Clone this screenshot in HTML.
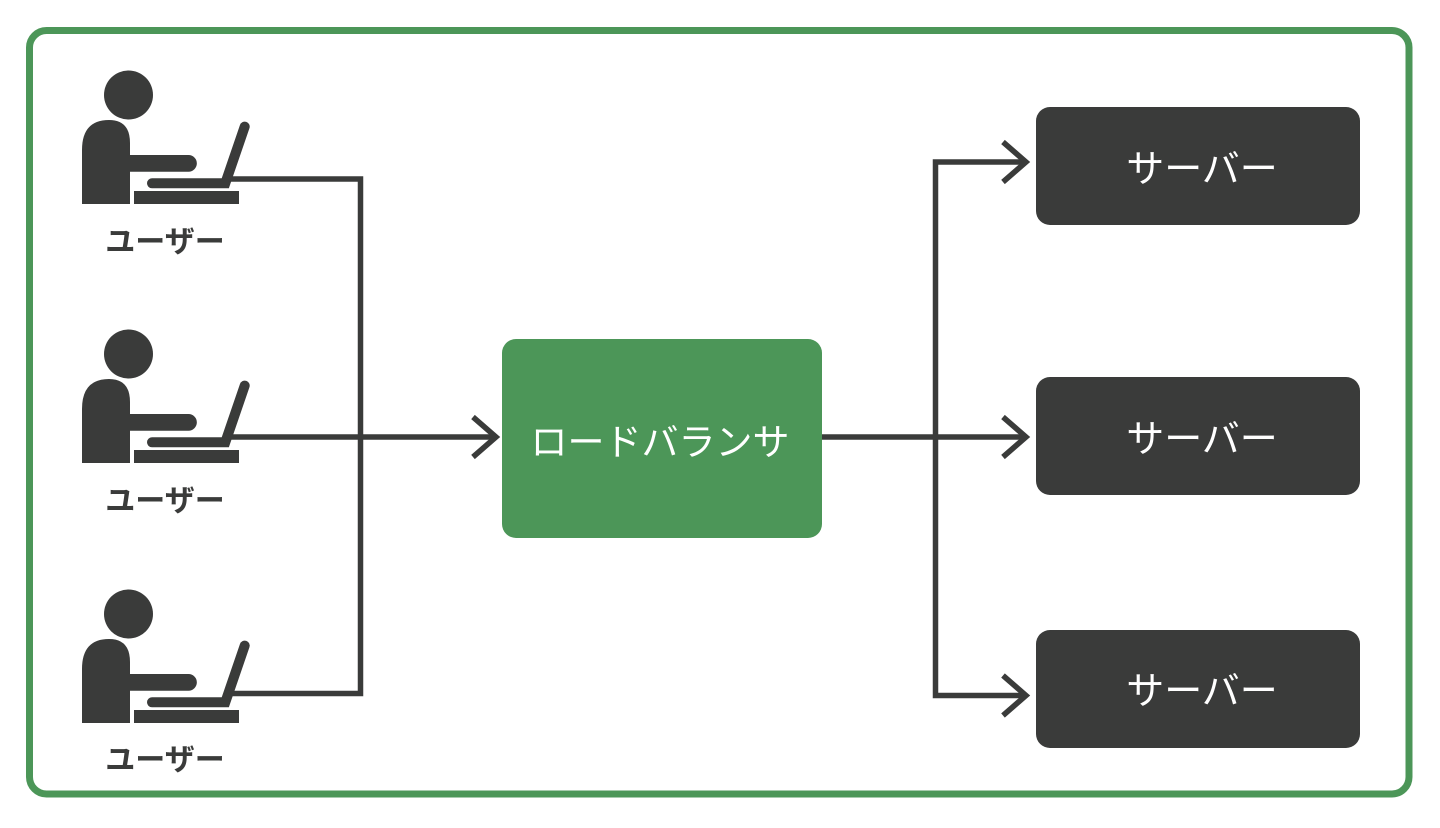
<!DOCTYPE html>
<html>
<head>
<meta charset="utf-8">
<style>
html,body{margin:0;padding:0;background:#fff;}
svg{display:block;}
text{font-family:"Liberation Sans","Noto Sans CJK JP",sans-serif;}
</style>
</head>
<body>
<svg width="1440" height="828" viewBox="0 0 1440 828" xmlns="http://www.w3.org/2000/svg">
  <rect x="0" y="0" width="1440" height="828" fill="#ffffff"/>
  <!-- outer frame -->
  <rect x="29.5" y="30.5" width="1379.5" height="763.5" rx="17" ry="17" fill="none" stroke="#4c9658" stroke-width="7"/>

  <!-- user icon template -->
  <defs>
    <g id="user">
      <circle cx="128.5" cy="95" r="24.5" fill="#3a3b3a"/>
      <path d="M82,204 V150 Q82,120 109,120 Q130,120 130,143 V155 H188.5 A8.3,8.3 0 0 1 188.5,171.7 H130 V204 Z" fill="#3a3b3a"/>
      <rect x="134" y="191" width="105" height="13" fill="#3a3b3a"/>
      <polyline points="152,183.3 225.3,183.3 244.7,126.6" fill="none" stroke="#3a3b3a" stroke-width="10" stroke-linecap="round" stroke-linejoin="miter"/>
    </g>
  </defs>

  <use href="#user"/>
  <use href="#user" transform="translate(0,259)"/>
  <use href="#user" transform="translate(0,519)"/>

  <g fill="#3a3b3a" font-size="30" font-weight="bold" text-anchor="middle">
    <text x="165" y="252">ユーザー</text>
    <text x="165" y="511">ユーザー</text>
    <text x="165" y="770">ユーザー</text>
  </g>

  <!-- left connectors -->
  <g fill="none" stroke="#3a3b3a" stroke-width="5.5" stroke-linejoin="miter">
    <path d="M228,179 H360.5 V693.5 H228"/>
    <path d="M228,437 H496"/>
    <polyline points="473,417 496,437 473,457"/>
  </g>

  <!-- load balancer -->
  <rect x="502" y="339" width="320" height="199" rx="14" ry="14" fill="#4c9658"/>
  <text x="660" y="455" font-size="37" fill="#ffffff" text-anchor="middle">ロードバランサ</text>

  <!-- right connectors -->
  <g fill="none" stroke="#3a3b3a" stroke-width="5.5" stroke-linejoin="miter">
    <path d="M822,437 H1026"/>
    <path d="M1026,162 H935.5 V695.5 H1026"/>
    <polyline points="1003,142 1026,162 1003,182"/>
    <polyline points="1003,417 1026,437 1003,457"/>
    <polyline points="1003,675.5 1026,695.5 1003,715.5"/>
  </g>

  <!-- servers -->
  <g fill="#3a3b3a">
    <rect x="1036" y="107" width="324" height="118" rx="14" ry="14"/>
    <rect x="1036" y="377" width="324" height="118" rx="14" ry="14"/>
    <rect x="1036" y="630" width="324" height="118" rx="14" ry="14"/>
  </g>
  <g fill="#ffffff" font-size="38" text-anchor="middle">
    <text x="1202" y="182">サーバー</text>
    <text x="1202" y="452">サーバー</text>
    <text x="1202" y="704">サーバー</text>
  </g>
</svg>
</body>
</html>
